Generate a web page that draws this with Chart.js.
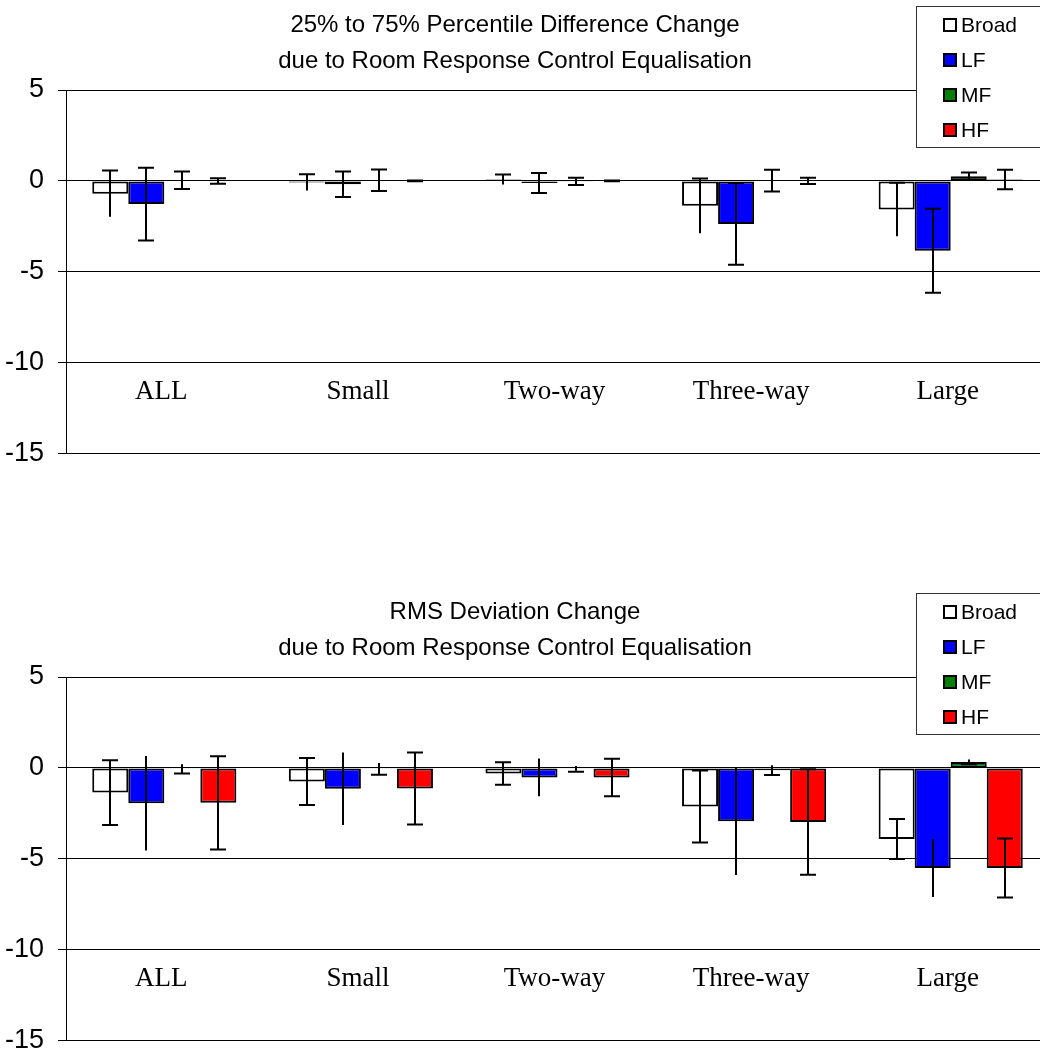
<!DOCTYPE html>
<html>
<head>
<meta charset="utf-8">
<title>Room Response Control Equalisation</title>
<script src="https://cdn.jsdelivr.net/npm/chart.js@4.4.1/dist/chart.umd.min.js"></script>
<style>
    html, body { margin: 0; padding: 0; background: #fff; overflow: hidden; width: 1040px; height: 1051px; }
    .wrap { position: absolute; left: 0; width: 1049px; height: 484px; }
    #wrapTop { top: 0; }
    #wrapBottom { top: 587px; }
</style>
</head>
<body>
<div class="wrap" id="wrapTop"><canvas id="pctChart" width="1049" height="484"></canvas></div>
<div class="wrap" id="wrapBottom"><canvas id="rmsChart" width="1049" height="484"></canvas></div>
<script>
// 카테고리 / 시리즈
const categories = ['ALL', 'Small', 'Two-way', 'Three-way', 'Large'];
const seriesNames = ['Broad', 'LF', 'MF', 'HF'];
const seriesColors = ['#ffffff', '#0000ff', '#008000', '#ff0000'];
const yTicks = [5, 0, -5, -10, -15];

// 25% to 75% percentile difference change (값, 오차)
const pctTitle = ['25% to 75% Percentile Difference Change', 'due to Room Response Control Equalisation'];
const pctBroad = [-0.70, -0.08, 0.08, -1.37, -1.57];
const pctBroadErr = [1.27, 0.45, 0.28, 1.50, 1.47];
const pctLF = [-1.27, -0.18, -0.11, -2.36, -3.84];
const pctLFErr = [2.00, 0.70, 0.55, 2.25, 2.31];
const pctMF = [0.04, 0.04, -0.02, 0.02, 0.26];
const pctMFErr = [0.48, 0.59, 0.20, 0.60, 0.20];
const pctHF = [0, 0, 0, 0, 0.08];
const pctHFErr = [0.15, 0.02, 0.02, 0.17, 0.54];

// RMS deviation change (값, 오차)
const rmsTitle = ['RMS Deviation Change', 'due to Room Response Control Equalisation'];
const rmsBroad = [-1.35, -0.74, -0.30, -2.12, -3.90];
const rmsBroadErr = [1.78, 1.29, 0.62, 1.98, 1.10];
const rmsLF = [-1.94, -1.14, -0.52, -2.93, -5.50];
const rmsLFErr = [2.60, 1.99, 1.04, 2.96, 1.60];
const rmsMF = [-0.05, -0.05, -0.05, -0.12, 0.33];
const rmsMFErr = [0.26, 0.32, 0.16, 0.27, 0.13];
const rmsHF = [-1.92, -1.13, -0.53, -2.97, -5.50];
const rmsHFErr = [2.57, 1.98, 1.03, 2.90, 1.62];

const sansFont = '"Liberation Sans", Arial, sans-serif';
const serifFont = '"Liberation Serif", "Times New Roman", serif';

// 오차 막대 + 제목 + 카테고리 라벨 + 범례
const decorPlugin = {
    id: 'decor',
    afterDatasetsDraw: function (chart) {
        const ctx = chart.ctx;
        const yScale = chart.scales.y;
        ctx.save();
        ctx.strokeStyle = '#000';
        ctx.lineWidth = 2;
        chart.data.datasets.forEach(function (ds, d) {
            const meta = chart.getDatasetMeta(d);
            meta.data.forEach(function (bar, i) {
                const v = ds.data[i];
                const e = ds.errors[i];
                const x = Math.round(bar.x);
                const yHi = yScale.getPixelForValue(v + e);
                const yLo = yScale.getPixelForValue(v - e);
                ctx.beginPath();
                ctx.moveTo(x, yHi);
                ctx.lineTo(x, yLo);
                if (ds.capTop) {
                    ctx.moveTo(x - 8, yHi);
                    ctx.lineTo(x + 8, yHi);
                }
                if (ds.capBottom) {
                    ctx.moveTo(x - 8, yLo);
                    ctx.lineTo(x + 8, yLo);
                }
                ctx.stroke();
            });
        });
        ctx.restore();
    },
    afterDraw: function (chart) {
        const ctx = chart.ctx;
        const opts = chart.options.plugins.decor;
        ctx.save();

        // 제목
        ctx.fillStyle = '#000';
        ctx.font = '24px ' + sansFont;
        ctx.textAlign = 'center';
        ctx.textBaseline = 'middle';
        opts.title.forEach(function (line, i) {
            ctx.fillText(line, 515, 25 + i * 36);
        });

        // 카테고리 라벨 (플롯 안쪽)
        ctx.font = '27px ' + serifFont;
        const xScale = chart.scales.x;
        const yScale = chart.scales.y;
        categories.forEach(function (c, i) {
            ctx.fillText(c, xScale.getPixelForValue(i) - 3, yScale.getPixelForValue(-11.6));
        });

        // 범례
        ctx.fillStyle = '#fff';
        ctx.fillRect(916, 6, 124, 142);
        ctx.strokeStyle = '#333';
        ctx.lineWidth = 1;
        ctx.strokeRect(916.5, 6.5, 124, 141);
        ctx.font = '21px ' + sansFont;
        ctx.textAlign = 'left';
        chart.data.datasets.forEach(function (ds, i) {
            const cy = 25 + i * 35;
            ctx.fillStyle = ds.backgroundColor;
            ctx.fillRect(944, cy - 6, 12, 12);
            ctx.strokeStyle = '#000';
            ctx.lineWidth = 2;
            ctx.strokeRect(944, cy - 6, 12, 12);
            ctx.fillStyle = '#000';
            ctx.fillText(ds.label, 961, cy + 1);
        });
        ctx.restore();
    }
};

function makeChart(canvasId, title, values, errors, caps) {
    const ctx = document.getElementById(canvasId).getContext('2d');
    const datasets = seriesNames.map(function (name, i) {
        return {
            label: name,
            data: values[i],
            errors: errors[i],
            capTop: caps[i][0],
            capBottom: caps[i][1],
            backgroundColor: seriesColors[i],
            borderColor: '#000',
            borderWidth: 2,
            borderSkipped: false,
            categoryPercentage: 0.733,
            barPercentage: 1.0
        };
    });
    return new Chart(ctx, {
        type: 'bar',
        data: { labels: categories, datasets: datasets },
        options: {
            responsive: false,
            animation: false,
            devicePixelRatio: 1,
            layout: { padding: { top: 90, bottom: 7, left: 0, right: 0 } },
            plugins: {
                legend: { display: false },
                title: { display: false },
                tooltip: { enabled: false },
                decor: { title: title }
            },
            scales: {
                x: {
                    grid: { display: false, drawTicks: false },
                    border: { display: true, color: '#000', width: 1 },
                    ticks: { display: false }
                },
                y: {
                    min: Math.min.apply(null, yTicks),
                    max: Math.max.apply(null, yTicks),
                    afterBuildTicks: function (axis) {
                        axis.ticks = yTicks.map(function (v) { return { value: v }; });
                    },
                    afterFit: function (axis) { axis.width = 66; },
                    grid: { color: '#000', lineWidth: 1, tickLength: 8, drawTicks: true },
                    border: { display: true, color: '#000', width: 1 },
                    ticks: {
                        color: '#000',
                        padding: 14,
                        font: { family: sansFont, size: 27 }
                    }
                }
            }
        },
        plugins: [decorPlugin]
    });
}

document.addEventListener('DOMContentLoaded', function () {
    makeChart('pctChart', pctTitle,
        [pctBroad, pctLF, pctMF, pctHF],
        [pctBroadErr, pctLFErr, pctMFErr, pctHFErr],
        [[true, false], [true, true], [true, true], [true, true]]);
    makeChart('rmsChart', rmsTitle,
        [rmsBroad, rmsLF, rmsMF, rmsHF],
        [rmsBroadErr, rmsLFErr, rmsMFErr, rmsHFErr],
        [[true, true], [false, false], [false, true], [true, true]]);
});
</script>
</body>
</html>
